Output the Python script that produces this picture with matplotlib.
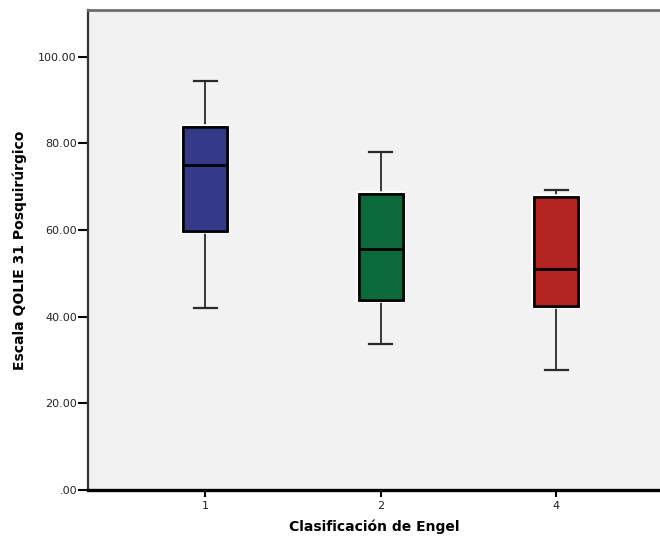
import matplotlib
matplotlib.use("Agg")
import matplotlib.pyplot as plt
import matplotlib.patheffects as pe

# Engel classification groups and QOLIE-31 summary statistics per group
categories = ["1", "2", "4"]
whisker_low = [42.0, 33.6, 27.7]
q1 = [59.9, 43.8, 42.5]
median = [75.1, 55.7, 51.0]
q3 = [83.8, 68.3, 67.6]
whisker_high = [94.5, 78.1, 69.3]
box_colors = ["#343a88", "#0b6a3b", "#b2241f"]

y_ticks = [0, 20, 40, 60, 80, 100]
y_tick_labels = [".00", "20.00", "40.00", "60.00", "80.00", "100.00"]

fig = plt.figure(figsize=(6.6, 5.39), dpi=100)
fig.patch.set_facecolor("white")
ax = fig.add_axes([88 / 660, 49 / 539, 572 / 660, 480 / 539])
ax.set_facecolor("#f2f2f2")

stats = []
for i, cat in enumerate(categories):
    stats.append({
        "label": cat,
        "whislo": whisker_low[i],
        "q1": q1[i],
        "med": median[i],
        "q3": q3[i],
        "whishi": whisker_high[i],
        "fliers": [],
    })

positions = list(range(len(categories)))
bp = ax.bxp(
    stats,
    positions=positions,
    widths=0.25,
    patch_artist=True,
    showfliers=False,
    boxprops=dict(linewidth=1.8, edgecolor="black"),
    medianprops=dict(color="black", linewidth=2.0),
    whiskerprops=dict(color="#2a2a2a", linewidth=1.3),
    capprops=dict(color="#2a2a2a", linewidth=1.6),
    capwidths=0.13,
)
for patch, color in zip(bp["boxes"], box_colors):
    patch.set_facecolor(color)
    patch.set_path_effects([pe.withStroke(linewidth=4, foreground="white"), pe.Normal()])
    patch.set_zorder(3)
for ln in bp["medians"]:
    ln.set_zorder(4)

ax.set_xlim(-0.667, 2.59)
ax.set_ylim(0, 110.8)

ax.set_yticks(y_ticks)
ax.set_yticklabels(y_tick_labels, fontsize=8, color="#222222")
ax.set_xticks(positions)
ax.set_xticklabels(categories, fontsize=8, color="#222222")
ax.tick_params(axis="y", direction="out", length=7, width=1.5, color="black", pad=1)
ax.tick_params(axis="x", direction="out", length=5, width=1.5, color="black", pad=3)

ax.spines["right"].set_visible(False)
ax.spines["top"].set_color("#6e6e6e")
ax.spines["top"].set_linewidth(2.0)
ax.spines["left"].set_color("#333333")
ax.spines["left"].set_linewidth(1.6)
ax.spines["bottom"].set_color("black")
ax.spines["bottom"].set_linewidth(2.4)

ax.set_ylabel("Escala QOLIE 31 Posquirúrgico", fontsize=10, fontweight="bold",
              labelpad=8)
ax.set_xlabel("Clasificación de Engel", fontsize=10, fontweight="bold",
              labelpad=6)

fig.savefig("out.png", dpi=100)
